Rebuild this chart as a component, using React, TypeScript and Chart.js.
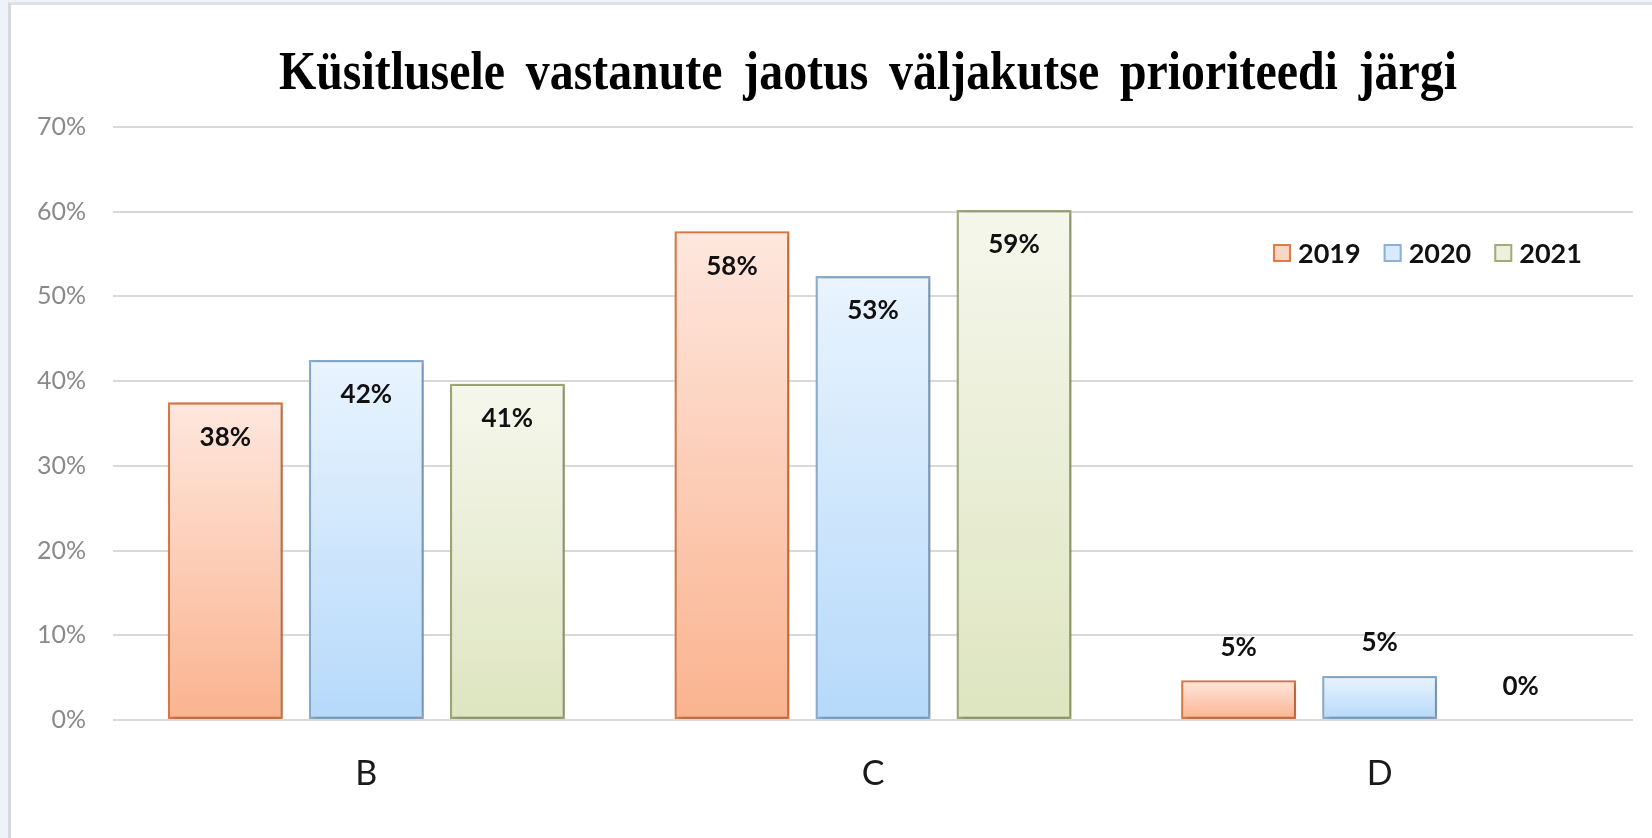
import React, { useEffect, useRef } from "react";
import { Chart, registerables } from "chart.js";

Chart.register(...registerables);

// ---------- data ----------
const TITLE = "Küsitlusele vastanute jaotus väljakutse prioriteedi järgi";
const categories = ["B", "C", "D"];
const seriesNames = ["2019", "2020", "2021"];
const values2019 = [37.5, 57.7, 4.7];
const values2020 = [42.5, 52.4, 5.2];
const values2021 = [39.7, 60.2, 0];
const labels2019 = ["38%", "58%", "5%"];
const labels2020 = ["42%", "53%", "5%"];
const labels2021 = ["41%", "59%", "0%"];
const Y_MIN = 0;
const Y_MAX = 70;
const Y_STEP = 10;

// ---------- styles ----------
const palette = [
  { top: "#fee7de", bottom: "#fab38f", border: "#e07b45", legend: "#fcd6c4" },
  { top: "#e9f4fe", bottom: "#b6d9fa", border: "#8db1d4", legend: "#d8ebfc" },
  { top: "#f5f7ec", bottom: "#dee5c0", border: "#a1ac7a", legend: "#ecf0dc" },
];
const SANS = "Lato, 'Open Sans', 'Noto Sans', sans-serif";

const makeGradient = (i: number) => (ctx: any) => {
  const chart = ctx.chart;
  const ys = chart.scales && chart.scales.y;
  if (!ys || ctx.type !== "data") return palette[i].bottom;
  const v = ctx.parsed ? ctx.parsed.y : ctx.raw;
  const top = ys.getPixelForValue(v);
  const base = ys.getPixelForValue(0);
  if (!isFinite(top) || !isFinite(base) || base - top < 1) return palette[i].bottom;
  const g = chart.ctx.createLinearGradient(0, top, 0, base);
  g.addColorStop(0, palette[i].top);
  g.addColorStop(1, palette[i].bottom);
  return g;
};

const titlePlugin = {
  id: "customTitle",
  afterDraw(chart: any) {
    const ctx = chart.ctx;
    ctx.save();
    ctx.font = 'bold 54px "Liberation Serif", "Times New Roman", serif';
    try { (ctx as any).wordSpacing = "10px"; } catch (e) {}
    ctx.fillStyle = "#000";
    ctx.textAlign = "center";
    ctx.textBaseline = "alphabetic";
    const w = ctx.measureText(TITLE).width;
    const sx = 1178 / w;
    ctx.translate(868, 89);
    ctx.scale(sx, 1);
    ctx.fillText(TITLE, 0, 0);
    ctx.restore();
  },
};

const shadowPlugin = {
  id: "barShadow",
  beforeDatasetsDraw(chart: any) {
    const ctx = chart.ctx;
    ctx.save();
    ctx.shadowColor = "rgba(0,0,0,0.25)";
    ctx.shadowBlur = 6;
    ctx.shadowOffsetX = 2;
    ctx.shadowOffsetY = 1;
  },
  afterDatasetsDraw(chart: any) {
    chart.ctx.restore();
  },
};

const valueLabelPlugin = {
  id: "valueLabels",
  afterDatasetsDraw(chart: any) {
    const ctx = chart.ctx;
    ctx.save();
    ctx.font = `bold 26px ${SANS}`;
    ctx.fillStyle = "#111";
    ctx.textAlign = "center";
    ctx.textBaseline = "middle";
    chart.data.datasets.forEach((ds: any, di: number) => {
      const meta = chart.getDatasetMeta(di);
      meta.data.forEach((el: any, i: number) => {
        const v = ds.data[i];
        const txt = ds.valueLabels[i];
        const y = v > 10 ? el.y + 35 : el.y - 33;
        ctx.fillText(txt, el.x, y);
      });
    });
    ctx.restore();
  },
};

const legendPlugin = {
  id: "customLegend",
  afterDraw(chart: any) {
    const ctx = chart.ctx;
    ctx.save();
    ctx.font = `bold 27px ${SANS}`;
    ctx.textBaseline = "middle";
    ctx.textAlign = "left";
    let x = 1273;
    const cy = 253;
    const box = 18;
    chart.data.datasets.forEach((ds: any, di: number) => {
      ctx.fillStyle = palette[di].legend;
      ctx.fillRect(x, cy - box / 2, box, box);
      ctx.strokeStyle = palette[di].border;
      ctx.lineWidth = 2;
      ctx.strokeRect(x + 1, cy - box / 2 + 1, box - 2, box - 2);
      ctx.fillStyle = "#111";
      ctx.fillText(ds.label, x + box + 7, cy + 1);
      x += box + 7 + ctx.measureText(ds.label).width + 23;
    });
    ctx.restore();
  },
};

export default function App() {
  const ref = useRef<HTMLCanvasElement | null>(null);

  useEffect(() => {
    if (!ref.current) return;
    const series = [values2019, values2020, values2021];
    const lbls = [labels2019, labels2020, labels2021];
    const chart = new Chart(ref.current, {
      type: "bar",
      data: {
        labels: categories,
        datasets: series.map((d, i) => ({
          label: seriesNames[i],
          data: d,
          valueLabels: lbls[i],
          backgroundColor: makeGradient(i),
          borderColor: palette[i].border,
          borderWidth: (c: any) => (c.raw === 0 ? 0 : 2.4),
          borderSkipped: false,
          categoryPercentage: 0.835,
          barPercentage: 0.816,
        })) as any,
      },
      options: {
        responsive: false,
        animation: false,
        devicePixelRatio: 1,
        layout: { padding: { left: 0, right: 19, top: 127, bottom: 0 } },
        plugins: {
          legend: { display: false },
          title: { display: false },
          tooltip: { enabled: false },
        },
        scales: {
          x: {
            grid: { display: false, drawTicks: false },
            border: { display: false },
            ticks: {
              color: "#1a1a1a",
              font: { family: SANS, size: 34 },
              padding: 34,
            },
            afterFit: (s: any) => {
              s.height = 118;
            },
          },
          y: {
            min: Y_MIN,
            max: Y_MAX,
            ticks: {
              stepSize: Y_STEP,
              color: "#8a8a8a",
              font: { family: SANS, size: 25 },
              padding: 27,
              callback: (v: any) => `${v}%`,
            },
            grid: { color: "#d9d9d9", lineWidth: 2, drawTicks: false },
            border: { display: false },
            afterFit: (s: any) => {
              s.width = 113;
            },
          },
        },
      },
      plugins: [shadowPlugin, valueLabelPlugin, legendPlugin, titlePlugin],
    });
    return () => chart.destroy();
  }, []);

  return (
    <div
      style={{
        position: "fixed",
        left: 0,
        top: 0,
        width: 1652,
        height: 838,
        background: "#eef3f9",
        overflow: "hidden",
      }}
    >
      <div
        style={{
          position: "absolute",
          left: 8,
          top: 2,
          right: 0,
          bottom: 0,
          background: "#ffffff",
          borderLeft: "3px solid #d5d8dc",
          borderTop: "3px solid #dcdfe3",
        }}
      />
      <canvas
        ref={ref}
        width={1652}
        height={838}
        style={{ position: "absolute", left: 0, top: 0, width: 1652, height: 838 }}
      />
    </div>
  );
}
